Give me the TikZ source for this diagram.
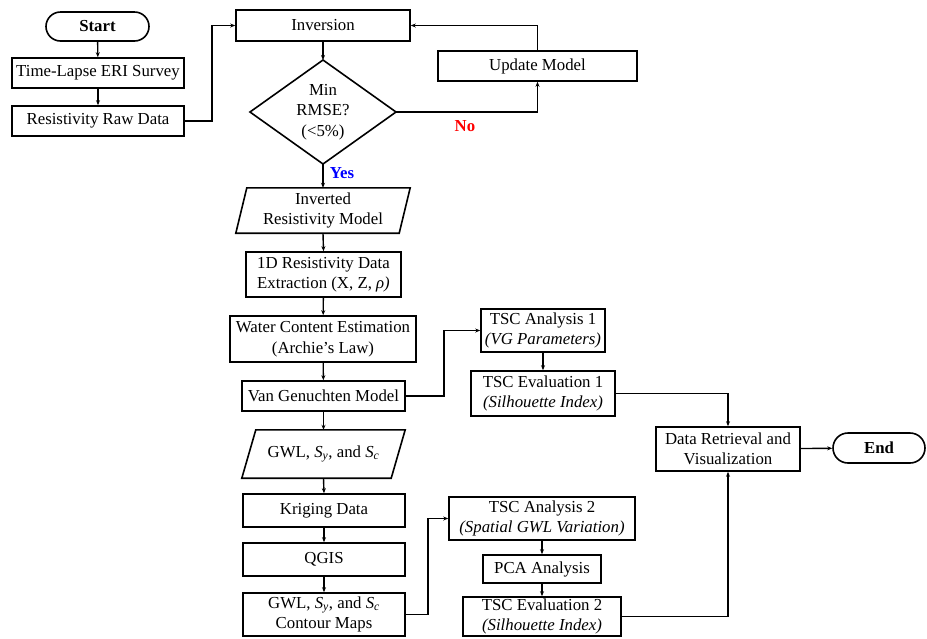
\documentclass[tikz,border=0pt]{standalone}
\usepackage{fontspec}
\setmainfont{Liberation Serif}
\usetikzlibrary{shapes.misc,arrows.meta}
\newcommand{\Sy}{\textit{S}\textsubscript{\textit{y}}}
\newcommand{\Sc}{\textit{S}\textsubscript{\textit{c}}}
\begin{document}
\begin{tikzpicture}[x=1pt,y=-1pt,
  txt/.style={font=\fontsize{16.8}{20.5}\selectfont},
  box/.style={draw, line width=1.6pt, inner sep=0pt, align=center, txt},
  plain/.style={inner sep=0pt, align=center, txt},
  term/.style={box, rounded rectangle, font=\fontsize{16.8}{20.5}\selectfont\bfseries},
  shapeline/.style={line width=1.6pt, line join=miter},
  conn/.style={line width=1.4pt, -{Stealth[length=5pt,width=4pt]}},
  lab/.style={font=\fontsize{16.8}{20.5}\selectfont\bfseries},
]
\useasboundingbox (0,0) rectangle (927,638);

% left column
\node[term, minimum width=103pt, minimum height=29pt] (start) at (97.5,26.5) {Start};
\node[box, minimum width=172pt, minimum height=30pt] (survey) at (98,73) {Time-Lapse ERI Survey};
\node[box, minimum width=172pt, minimum height=30pt] (raw) at (98,121) {Resistivity Raw Data};

% inversion loop
\node[box, minimum width=174pt, minimum height=31pt] (inv) at (323,25.5) {Inversion};
\node[plain] (dia) at (323,112) {Min\\RMSE?\\(<5\%)};
\coordinate (diaT) at (323,60);
\coordinate (diaB) at (323,164);
\coordinate (diaL) at (250,112);
\coordinate (diaR) at (396,112);
\draw[shapeline] (diaT) -- (diaR) -- (diaB) -- (diaL) -- cycle;
\node[box, minimum width=199pt, minimum height=30pt] (upd) at (537.5,66) {Update Model};

% main column
\node[plain, minimum width=174pt, minimum height=45pt] (invm) at (323,210.5) {Inverted\\Resistivity Model};
\draw[shapeline] ([xshift=11pt]invm.north west) -- (invm.north east) -- ([xshift=-11pt]invm.south east) -- (invm.south west) -- cycle;
\node[box, minimum width=155pt, minimum height=45pt] (ext) at (323.5,274.5) {1D Resistivity Data\\Extraction (X, Z, \textit{ρ)}};
\node[box, minimum width=186pt, minimum height=46pt] (water) at (323,339) {Water Content Estimation\\(Archie’s Law)};
\node[box, minimum width=163pt, minimum height=30pt] (vg) at (323.5,396) {Van Genuchten Model};
\node[plain, minimum width=163pt, minimum height=48pt] (gwl) at (323.5,454) {GWL, \Sy, and \Sc};
\draw[shapeline] ([xshift=14pt]gwl.north west) -- (gwl.north east) -- ([xshift=-14pt]gwl.south east) -- (gwl.south west) -- cycle;
\node[box, minimum width=162pt, minimum height=33pt] (krig) at (324,510.5) {Kriging Data};
\node[box, minimum width=162pt, minimum height=33pt] (qgis) at (324,559.5) {QGIS};
\node[box, minimum width=162pt, minimum height=43pt] (cont) at (324,614.5) {GWL, \Sy, and \Sc\\Contour Maps};

% TSC branch 1
\node[box, minimum width=124pt, minimum height=43pt] (tsca1) at (543,330.5) {TSC Analysis 1\\\textit{(VG Parameters)}};
\node[box, minimum width=144pt, minimum height=45pt] (tsce1) at (543,393.5) {TSC Evaluation 1\\\textit{(Silhouette Index)}};

% TSC branch 2
\node[box, minimum width=186pt, minimum height=43pt] (tsca2) at (542,518.5) {TSC Analysis 2\\\textit{(Spatial GWL Variation)}};
\node[box, minimum width=118pt, minimum height=28pt] (pca) at (542,569) {PCA Analysis};
\node[box, minimum width=158pt, minimum height=39pt] (tsce2) at (542,616.5) {TSC Evaluation 2\\\textit{(Silhouette Index)}};

% output
\node[box, minimum width=144pt, minimum height=44pt] (dr) at (728,449) {Data Retrieval and\\Visualization};
\node[term, minimum width=92pt, minimum height=30pt] (end) at (879,448) {End};

% labels
\node[lab, text=red] (no) at (465,126) {No};
\node[lab, text=blue] (yes) at (342,173) {Yes};

% connectors
\draw[conn] (start) -- (survey);
\draw[conn] (survey) -- (raw);
\draw[conn] (raw.east) -- ++(27,0) |- (inv.west);
\draw[conn] (inv.south) -- (diaT);
\draw[conn] (diaR) -| (upd.south);
\draw[conn] (upd.north) |- (inv.east);
\draw[conn] (diaB) -- (invm.north);
\draw[conn] (invm.south) -- (ext.north);
\draw[conn] (ext) -- (water);
\draw[conn] (water) -- (vg);
\draw[conn] (vg.south) -- (gwl.north);
\draw[conn] (gwl.south) -- (krig.north);
\draw[conn] (krig) -- (qgis);
\draw[conn] (qgis) -- (cont);
\draw[conn] (vg.east) -- ++(38,0) |- (tsca1.west);
\draw[conn] (tsca1) -- (tsce1);
\draw[conn] (tsce1.east) -| (dr.north);
\draw[conn] (cont.east) -- ++(22,0) |- (tsca2.west);
\draw[conn] (tsca2) -- (pca);
\draw[conn] (pca) -- (tsce2);
\draw[conn] (tsce2.east) -| (dr.south);
\draw[conn] (dr) -- (end);
\end{tikzpicture}
\end{document}
